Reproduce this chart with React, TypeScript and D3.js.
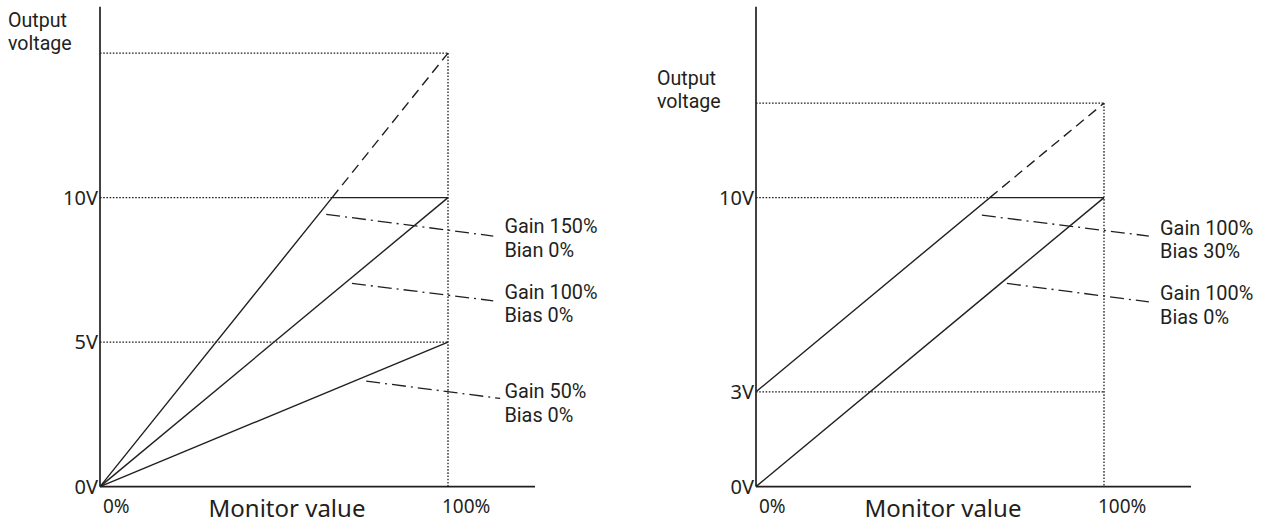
import React from "react";
import * as d3 from "d3";

// ---------- data ----------
const xTickValues = [0, 100];
const xTickLabels = ["0%", "100%"];
const xTitle = "Monitor value";
const yTitle = ["Output", "voltage"];

// Left panel (gain comparison)
const leftYTickValues = [0, 5, 10];
const leftYTickLabels = ["0V", "5V", "10V"];
const leftSolidSeries: [number, number][][] = [
  [[0, 0], [66.7, 10], [100, 10]],
  [[0, 0], [100, 10]],
  [[0, 0], [100, 5]],
];
const leftDashedSeries: [number, number][][] = [[[66.7, 10], [100, 15]]];
const leftGuides: [number, number][][] = [
  [[0, 15], [100, 15]],
  [[100, 15], [100, 0]],
  [[0, 10], [66.7, 10]],
  [[0, 5], [100, 5]],
];
const leftLabels = [
  ["Gain 150%", "Bian 0%"],
  ["Gain 100%", "Bias 0%"],
  ["Gain 50%", "Bias 0%"],
];
const leftLabelAnchors: [number, number][] = [[116.2, 8.76], [116.2, 6.49], [116.2, 3.05]];
const leftLeaders: [number, number][][] = [
  [[65, 9.42], [113, 8.67]],
  [[72.4, 7.03], [113, 6.43]],
  [[76.5, 3.65], [115, 3.05]],
];

// Right panel (bias comparison)
const rightYTickValues = [0, 3.28, 10];
const rightYTickLabels = ["0V", "3V", "10V"];
const rightSolidSeries: [number, number][][] = [
  [[0, 3.28], [67.2, 10], [100, 10]],
  [[0, 0], [100, 10]],
];
const rightDashedSeries: [number, number][][] = [[[67.2, 10], [100, 13.27]]];
const rightGuides: [number, number][][] = [
  [[0, 13.27], [100, 13.27]],
  [[100, 13.27], [100, 0]],
  [[0, 10], [67.2, 10]],
  [[0, 3.28], [100, 3.28]],
];
const rightLabels = [
  ["Gain 100%", "Bias 30%"],
  ["Gain 100%", "Bias 0%"],
];
const rightLabelAnchors: [number, number][] = [[116.1, 8.72], [116.1, 6.45]];
const rightLeaders: [number, number][][] = [
  [[64.9, 9.39], [112.9, 8.67]],
  [[72.1, 7.03], [112.9, 6.39]],
];

// ---------- styles ----------
const INK = "#231f20";
const FONT = "'Noto Sans', 'Open Sans', sans-serif";
const LABEL_FONT = "Roboto, 'Noto Sans', sans-serif";

type PanelProps = {
  x0: number;
  yTicks: number[];
  yTickLabels: string[];
  solid: [number, number][][];
  dashed: [number, number][][];
  guides: [number, number][][];
  labels: string[][];
  labelAnchors: [number, number][];
  leaders: [number, number][][];
  titleX: number;
  titleY: number;
};

function Panel(p: PanelProps) {
  const x = d3.scaleLinear().domain([0, 100]).range([p.x0, p.x0 + 348]);
  const y = d3.scaleLinear().domain([0, 10]).range([486.6, 197.6]);
  const line = d3
    .line<[number, number]>()
    .x((d) => x(d[0]))
    .y((d) => y(d[1]));
  const yTop = 16.6;
  const xEnd = 125;
  return (
    <g>
      {p.guides.map((g, i) => (
        <path key={"g" + i} d={line(g) || ""} fill="none" stroke={INK} strokeWidth={1.3} strokeDasharray="1.6,1.6" />
      ))}
      {p.leaders.map((g, i) => (
        <path key={"l" + i} d={line(g) || ""} fill="none" stroke={INK} strokeWidth={1.3} strokeDasharray="14,5,2,5" />
      ))}
      {p.dashed.map((g, i) => (
        <path key={"d" + i} d={line(g) || ""} fill="none" stroke={INK} strokeWidth={1.4} strokeDasharray="10,6" />
      ))}
      {p.solid.map((g, i) => (
        <path key={"s" + i} d={line(g) || ""} fill="none" stroke={INK} strokeWidth={1.4} strokeLinejoin="miter" />
      ))}
      <line x1={x(0)} x2={x(0)} y1={y(0)} y2={y(yTop)} stroke={INK} strokeWidth={1.7} />
      <line x1={x(0)} x2={x(xEnd)} y1={y(0)} y2={y(0)} stroke={INK} strokeWidth={1.7} />
      {p.yTicks.map((v, i) => (
        <text key={"yt" + i} x={x(0) - 2} y={y(v)} dy="0.35em" textAnchor="end" fontSize={20} fill={INK} fontFamily={FONT}>
          {p.yTickLabels[i]}
        </text>
      ))}
      {xTickValues.map((v, i) => (
        <text key={"xt" + i} x={x(v) + (i === 0 ? 3 : -6)} y={513} textAnchor="start" fontSize={19} fill={INK} fontFamily={FONT}>
          {xTickLabels[i]}
        </text>
      ))}
      <text x={x(0) + 187} y={517} textAnchor="middle" fontSize={24} fill={INK} fontFamily={FONT}>
        {xTitle}
      </text>
      {yTitle.map((t, i) => (
        <text key={"yl" + i} x={p.titleX} y={p.titleY + i * 23} fontSize={19.6} fill={INK} fontFamily={LABEL_FONT}>
          {t}
        </text>
      ))}
      {p.labels.map((ls, i) =>
        ls.map((t, j) => (
          <text
            key={"lab" + i + "-" + j}
            x={x(p.labelAnchors[i][0])}
            y={y(p.labelAnchors[i][1]) + j * 23.4}
            fontSize={19.9}
            fill={INK}
            fontFamily={LABEL_FONT}
          >
            {t}
          </text>
        ))
      )}
    </g>
  );
}

export default function App() {
  return (
    <svg
      width={1270}
      height={524}
      style={{ position: "absolute", left: 0, top: 0, background: "#fff" }}
    >
      <rect width={1270} height={524} fill="#fff" />
      <Panel
        x0={100}
        yTicks={leftYTickValues}
        yTickLabels={leftYTickLabels}
        solid={leftSolidSeries}
        dashed={leftDashedSeries}
        guides={leftGuides}
        labels={leftLabels}
        labelAnchors={leftLabelAnchors}
        leaders={leftLeaders}
        titleX={8}
        titleY={27}
      />
      <Panel
        x0={756}
        yTicks={rightYTickValues}
        yTickLabels={rightYTickLabels}
        solid={rightSolidSeries}
        dashed={rightDashedSeries}
        guides={rightGuides}
        labels={rightLabels}
        labelAnchors={rightLabelAnchors}
        leaders={rightLeaders}
        titleX={657}
        titleY={85}
      />
    </svg>
  );
}
